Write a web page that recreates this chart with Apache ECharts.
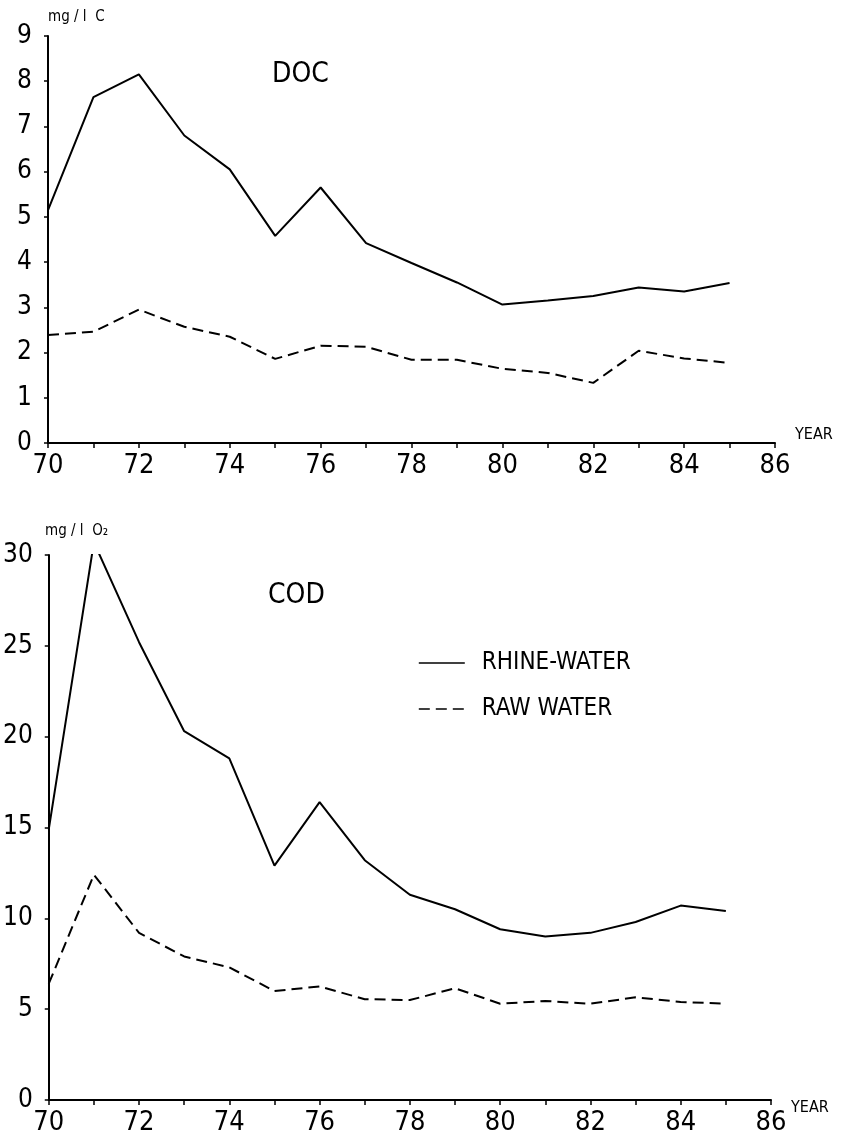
<!DOCTYPE html>
<html>
<head>
<meta charset="utf-8">
<script src="https://cdn.jsdelivr.net/npm/echarts@6/dist/echarts.min.js"></script>
<style>
  html, body { margin: 0; padding: 0; background: #fff; }
  #chart { width: 849px; height: 1145px; }
</style>
</head>
<body>
<div id="chart"></div>
<script>
// years on the x axis
const years = [70, 71, 72, 73, 74, 75, 76, 77, 78, 79, 80, 81, 82, 83, 84, 85];
// DOC, mg/l C
const docRhine = [5.15, 7.65, 8.15, 6.8, 6.05, 4.58, 5.65, 4.42, 3.98, 3.55, 3.06, 3.15, 3.25, 3.44, 3.35, 3.54];
const docRaw = [2.39, 2.46, 2.95, 2.57, 2.35, 1.86, 2.15, 2.13, 1.84, 1.84, 1.64, 1.55, 1.33, 2.04, 1.87, 1.77];
// COD, mg/l O2
const codRhine = [14.9, 30.7, 25.2, 20.3, 18.8, 12.9, 16.4, 13.2, 11.3, 10.5, 9.4, 9.0, 9.2, 9.8, 10.7, 10.4];
const codRaw = [6.4, 12.4, 9.2, 7.9, 7.3, 6.0, 6.25, 5.55, 5.5, 6.15, 5.3, 5.45, 5.3, 5.65, 5.4, 5.3];

const FONT = "'DejaVu Sans Condensed', 'Liberation Sans', sans-serif";
const pairs = (vals) => years.map((y, i) => [y, vals[i]]);

const chart = echarts.init(document.getElementById('chart'));

function xAxisCfg(gridIndex, nameAlign) {
  return {
    gridIndex: gridIndex,
    type: 'value',
    min: 70,
    max: 86,
    interval: 1,
    name: 'YEAR',
    nameLocation: 'end',
    nameGap: 20,
    nameTextStyle: { fontFamily: FONT, fontSize: 16, color: '#000', verticalAlign: nameAlign },
    axisLine: { show: true, onZero: false, lineStyle: { color: '#000', width: 2 } },
    axisTick: { show: true, length: 5, lineStyle: { color: '#000', width: 1.5 } },
    axisLabel: {
      color: '#000', fontFamily: FONT, fontSize: 27, margin: 9,
      formatter: (v) => (v % 2 === 0 ? String(v) : '')
    },
    splitLine: { show: false }
  };
}

function yAxisCfg(gridIndex, max, interval) {
  return {
    gridIndex: gridIndex,
    type: 'value',
    min: 0,
    max: max,
    interval: interval,
    axisLine: { show: true, lineStyle: { color: '#000', width: 2 } },
    axisTick: { show: true, length: 4, lineStyle: { color: '#000', width: 1.5 } },
    axisLabel: { color: '#000', fontFamily: FONT, fontSize: 26, margin: 16 },
    splitLine: { show: false }
  };
}

function lineSeries(name, xi, vals, dashed) {
  return {
    name: name,
    type: 'line',
    xAxisIndex: xi,
    yAxisIndex: xi,
    data: pairs(vals),
    symbol: 'none',
    animation: false,
    lineStyle: { color: '#000', width: 2, type: dashed ? [11, 6] : 'solid' },
    itemStyle: { color: '#000' }
  };
}

const option = {
  backgroundColor: '#fff',
  animation: false,
  grid: [
    { left: 48, right: 74, top: 36, bottom: 702 },
    { left: 45, right: 78, top: 555, bottom: 45 }
  ],
  xAxis: [xAxisCfg(0, 'bottom'), xAxisCfg(1, 'top')],
  yAxis: [yAxisCfg(0, 9, 1), yAxisCfg(1, 30, 5)],
  legend: {
    orient: 'vertical',
    left: 413,
    top: 646,
    itemWidth: 46,
    itemHeight: 16,
    itemGap: 22,
    itemStyle: { opacity: 0 },
    lineStyle: { width: 1.6 },
    data: ['RHINE-WATER', 'RAW WATER'],
    textStyle: { fontFamily: FONT, fontSize: 24, color: '#000', padding: [0, 0, 0, 12] }
  },
  graphic: [
    { type: 'text', left: 48, top: 10, style: { text: 'mg / l  C', font: '15px ' + FONT, fill: '#000' } },
    { type: 'text', left: 272, top: 61, style: { text: 'DOC', font: '28px ' + FONT, fill: '#000' } },
    { type: 'text', left: 45, top: 524, style: { text: 'mg / l  O₂', font: '15px ' + FONT, fill: '#000' } },
    { type: 'text', left: 268, top: 582, style: { text: 'COD', font: '28px ' + FONT, fill: '#000' } }
  ],
  series: [
    lineSeries('RHINE-WATER', 0, docRhine, false),
    lineSeries('RAW WATER', 0, docRaw, true),
    lineSeries('RHINE-WATER', 1, codRhine, false),
    lineSeries('RAW WATER', 1, codRaw, true)
  ]
};

chart.setOption(option);
</script>
</body>
</html>
